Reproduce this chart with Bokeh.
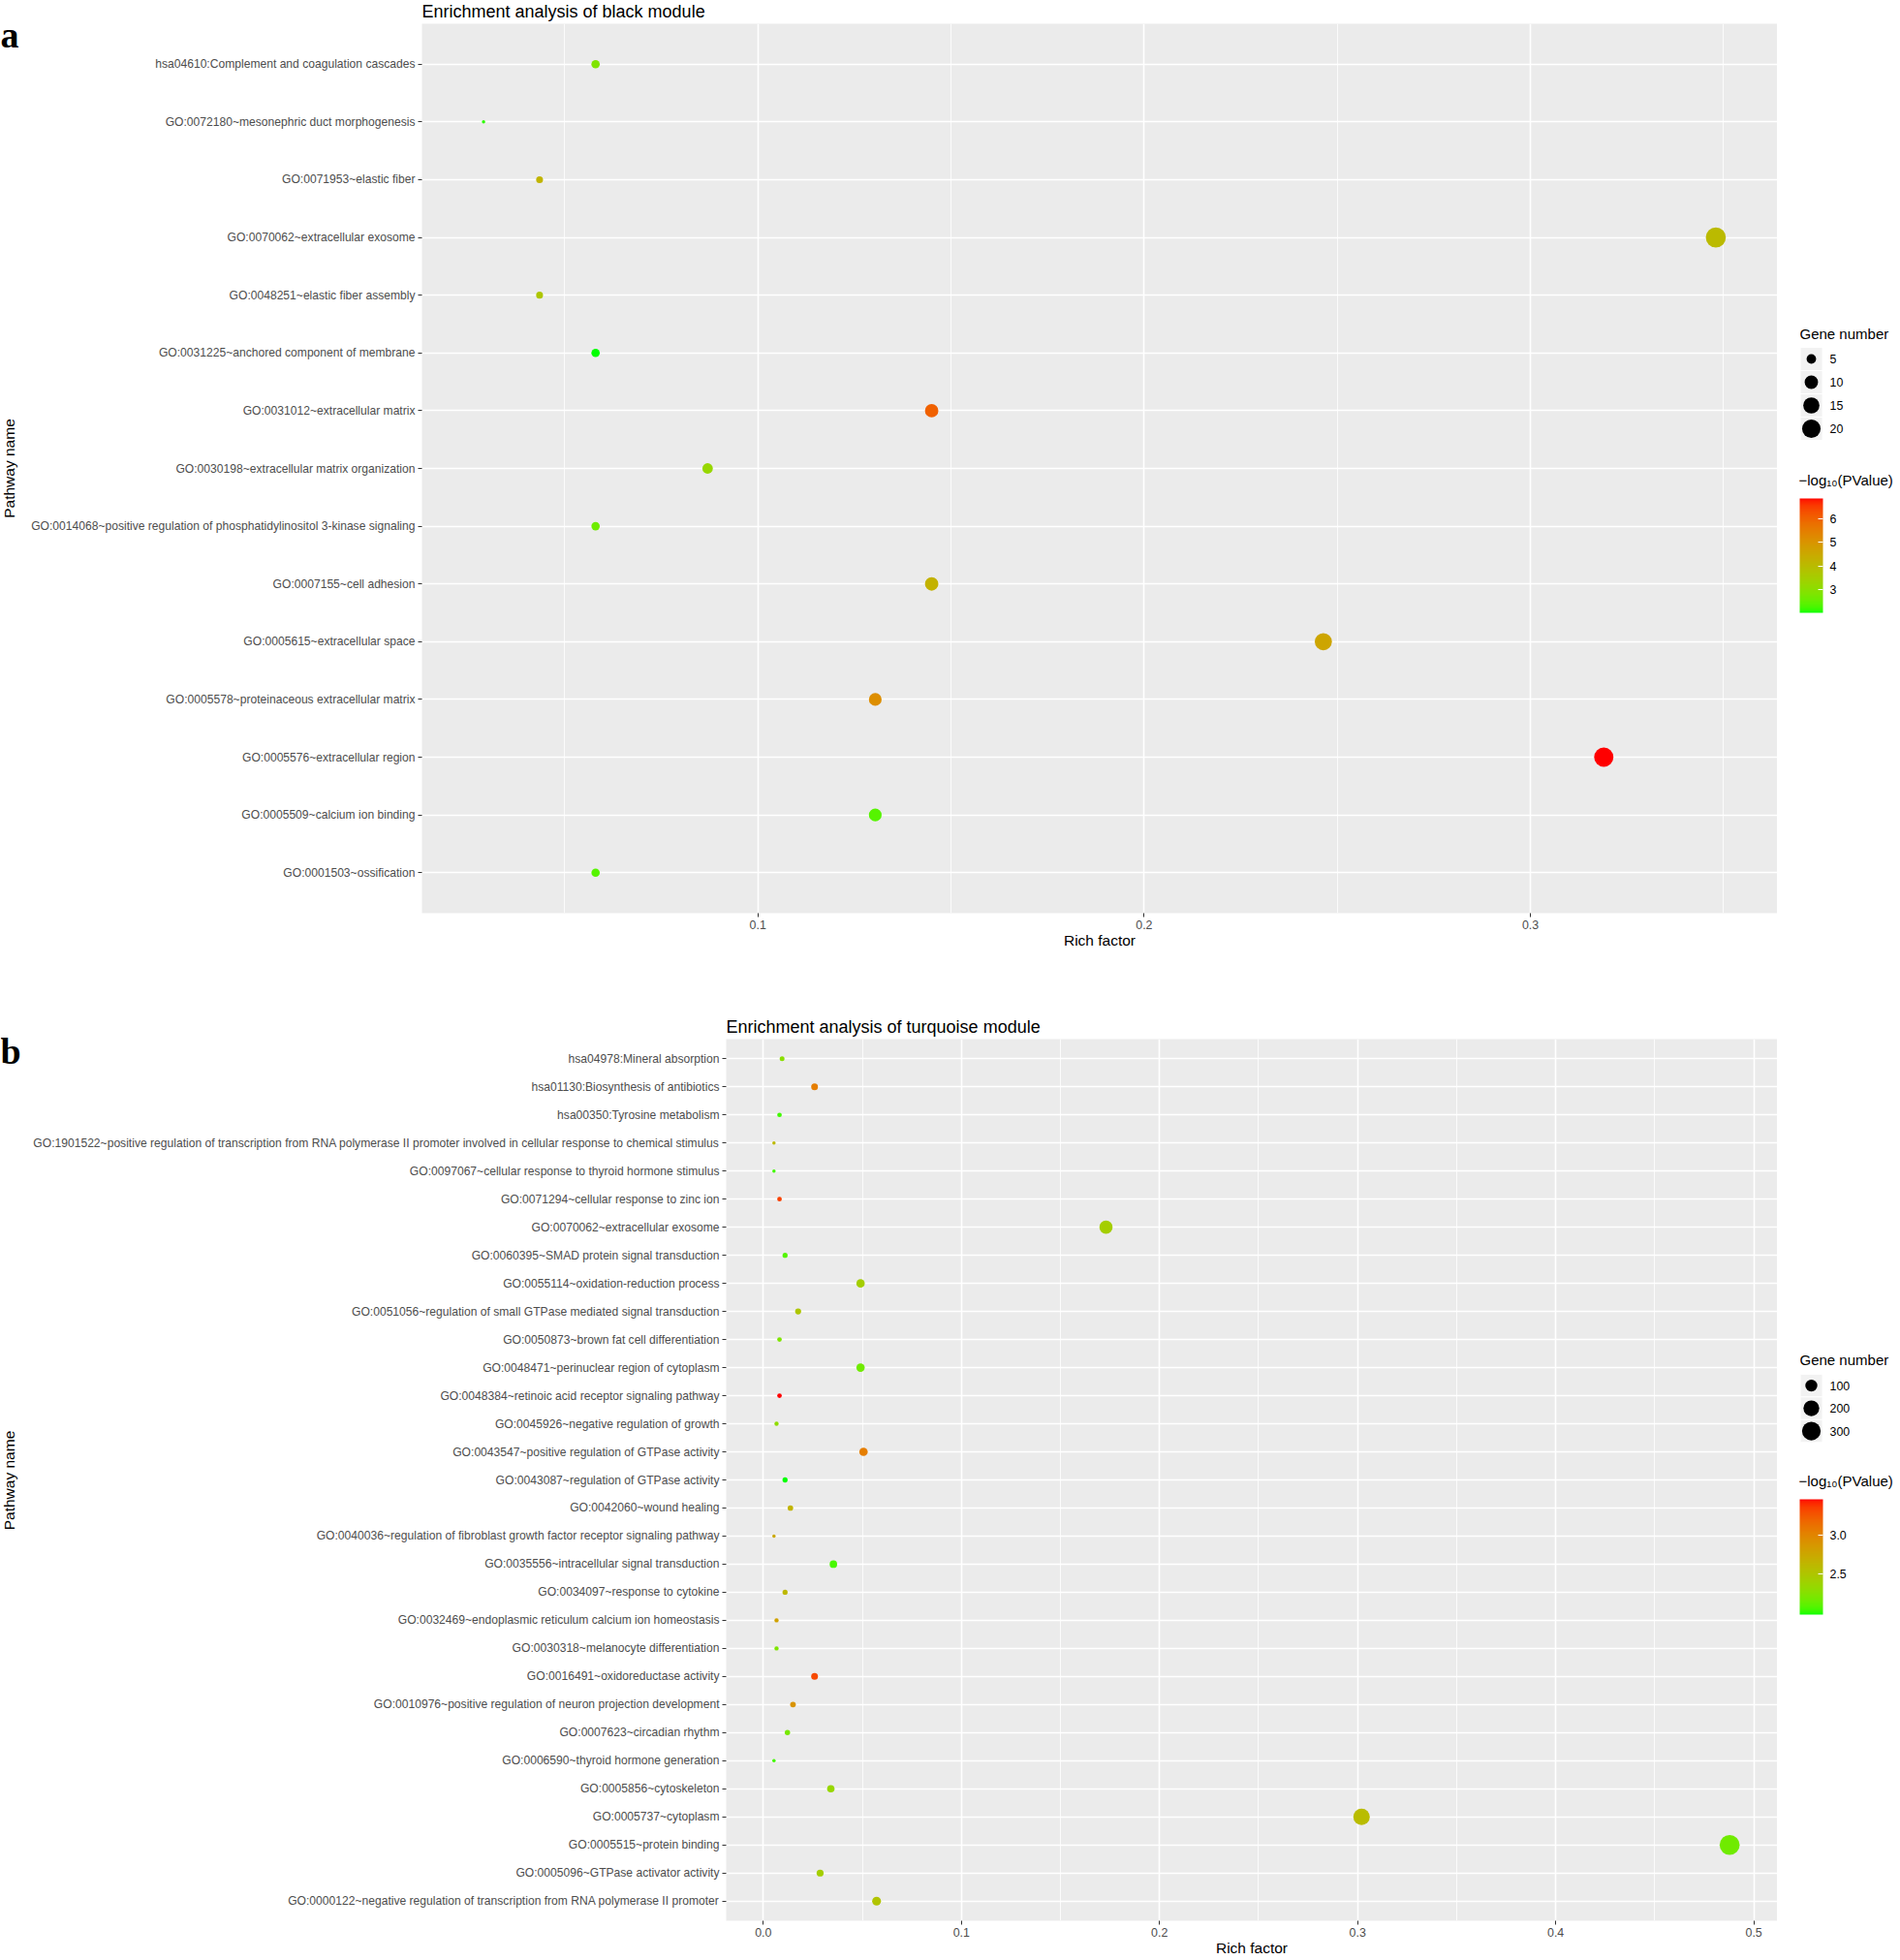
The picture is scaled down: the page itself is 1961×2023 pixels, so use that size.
import numpy as np
from bokeh.plotting import figure
from bokeh.models import (ColumnDataSource, FactorRange, Range1d, FixedTicker,
                          LinearColorMapper, ColorBar, NumeralTickFormatter, Spacer)
from bokeh.layouts import row, column
from bokeh.embed import file_html
from bokeh.resources import INLINE
from bokeh.core.properties import value

# ---------------- data: panel a (black module), listed top to bottom ----------------
a_terms = [
    "hsa04610:Complement and coagulation cascades",
    "GO:0072180~mesonephric duct morphogenesis",
    "GO:0071953~elastic fiber",
    "GO:0070062~extracellular exosome",
    "GO:0048251~elastic fiber assembly",
    "GO:0031225~anchored component of membrane",
    "GO:0031012~extracellular matrix",
    "GO:0030198~extracellular matrix organization",
    "GO:0014068~positive regulation of phosphatidylinositol 3-kinase signaling",
    "GO:0007155~cell adhesion",
    "GO:0005615~extracellular space",
    "GO:0005578~proteinaceous extracellular matrix",
    "GO:0005576~extracellular region",
    "GO:0005509~calcium ion binding",
    "GO:0001503~ossification",
]
a_rich = [0.058, 0.029, 0.0435, 0.348, 0.0435, 0.058, 0.145, 0.087, 0.058, 0.145,
          0.2464, 0.1304, 0.319, 0.1304, 0.058]
a_count = [4, 2, 3, 24, 3, 4, 10, 6, 4, 10, 17, 9, 22, 9, 4]
a_logp = [2.83, 2.1, 4.2, 4.05, 3.7, 2.0, 6.05, 3.2, 2.6, 4.25, 4.6, 5.15, 6.87, 2.35, 2.35]
a_x_ticks = [0.1, 0.2, 0.3]
a_x_minor = [0.05, 0.15, 0.25, 0.35]
a_size_breaks = [5, 10, 15, 20]
a_color_ticks = [3, 4, 5, 6]

# ---------------- data: panel b (turquoise module), listed top to bottom ----------------
b_terms = [
    "hsa04978:Mineral absorption",
    "hsa01130:Biosynthesis of antibiotics",
    "hsa00350:Tyrosine metabolism",
    "GO:1901522~positive regulation of transcription from RNA polymerase II promoter involved in cellular response to chemical stimulus",
    "GO:0097067~cellular response to thyroid hormone stimulus",
    "GO:0071294~cellular response to zinc ion",
    "GO:0070062~extracellular exosome",
    "GO:0060395~SMAD protein signal transduction",
    "GO:0055114~oxidation-reduction process",
    "GO:0051056~regulation of small GTPase mediated signal transduction",
    "GO:0050873~brown fat cell differentiation",
    "GO:0048471~perinuclear region of cytoplasm",
    "GO:0048384~retinoic acid receptor signaling pathway",
    "GO:0045926~negative regulation of growth",
    "GO:0043547~positive regulation of GTPase activity",
    "GO:0043087~regulation of GTPase activity",
    "GO:0042060~wound healing",
    "GO:0040036~regulation of fibroblast growth factor receptor signaling pathway",
    "GO:0035556~intracellular signal transduction",
    "GO:0034097~response to cytokine",
    "GO:0032469~endoplasmic reticulum calcium ion homeostasis",
    "GO:0030318~melanocyte differentiation",
    "GO:0016491~oxidoreductase activity",
    "GO:0010976~positive regulation of neuron projection development",
    "GO:0007623~circadian rhythm",
    "GO:0006590~thyroid hormone generation",
    "GO:0005856~cytoskeleton",
    "GO:0005737~cytoplasm",
    "GO:0005515~protein binding",
    "GO:0005096~GTPase activator activity",
    "GO:0000122~negative regulation of transcription from RNA polymerase II promoter",
]
b_rich = [0.0095, 0.0259, 0.0082, 0.0054, 0.0054, 0.0082, 0.173, 0.011, 0.0491, 0.0176,
          0.0082, 0.0491, 0.0082, 0.0067, 0.0506, 0.011, 0.0137, 0.0054, 0.0354, 0.011,
          0.0067, 0.0067, 0.0259, 0.015, 0.0122, 0.0054, 0.0341, 0.302, 0.4878, 0.0287, 0.0572]
b_count = [7, 19, 6, 4, 4, 6, 126, 8, 36, 13, 6, 36, 6, 5, 37, 8, 10, 4, 26, 8,
           5, 5, 19, 11, 9, 4, 25, 220, 356, 21, 42]
b_logp = [2.27, 3.04, 2.03, 2.6, 2.03, 3.34, 2.42, 2.07, 2.42, 2.49, 2.22, 2.16, 3.46, 2.3,
          3.04, 1.97, 2.64, 2.74, 2.04, 2.61, 2.79, 2.22, 3.31, 2.89, 2.19, 2.03, 2.34,
          2.57, 2.16, 2.42, 2.51]
b_x_ticks = [0.0, 0.1, 0.2, 0.3, 0.4, 0.5]
b_x_minor = [0.05, 0.15, 0.25, 0.35, 0.45]
b_size_breaks = [100, 200, 300]
b_color_ticks = [2.5, 3.0]

FONT = "Liberation Sans"
GREY30 = "#4D4D4D"


# ---------------- green -> red gradient interpolated in CIELAB (like ggplot) ----------------
_M = np.array([[0.4124, 0.3576, 0.1805], [0.2126, 0.7152, 0.0722], [0.0193, 0.1192, 0.9505]])
_MI = np.linalg.inv(_M)
_W = np.array([0.95047, 1.0, 1.08883])


def _to_lin(c):
    c = np.asarray(c, float)
    return np.where(c <= 0.04045, c / 12.92, ((c + 0.055) / 1.055) ** 2.4)


def _to_srgb(c):
    c = np.clip(c, 0, 1)
    return np.where(c <= 0.0031308, 12.92 * c, 1.055 * c ** (1 / 2.4) - 0.055)


def rgb2lab(rgb):
    xyz = _M @ _to_lin(rgb) / _W
    f = np.where(xyz > 216 / 24389, np.cbrt(xyz), (24389 / 27 * xyz + 16) / 116)
    return np.array([116 * f[1] - 16, 500 * (f[0] - f[1]), 200 * (f[1] - f[2])])


def lab2hex(lab):
    L, a, b = lab
    fy = (L + 16) / 116
    f = np.array([fy + a / 500, fy, fy - b / 200])
    xyz = np.where(f ** 3 > 216 / 24389, f ** 3, (116 * f - 16) / (24389 / 27)) * _W
    rgb = np.round(_to_srgb(_MI @ xyz) * 255).astype(int)
    return "#%02x%02x%02x" % tuple(rgb)


_lo, _hi = rgb2lab([0, 1, 0]), rgb2lab([1, 0, 0])
PALETTE = [lab2hex(_lo + t * (_hi - _lo)) for t in np.linspace(0, 1, 256)]


def size_scale(n, nmin, nmax):
    # ggplot2 scale_size: area-proportional, range 1..6 (about 3.45 px per unit here)
    n = np.asarray(n, float)
    return 3.45 * (1 + 5 * np.sqrt((n - nmin) / (nmax - nmin)))


SIDE_W = 22
LEG_W = 125
MAIN_W = 1834 - SIDE_W


def make_side(H, page_top, bottom, letter, letter_base, frame_mid):
    # left strip (starts 1px below the row top): panel letter + y-axis title.
    # data y is measured upward from the strip's frame bottom.
    h = H - 1
    fb = page_top + h - bottom          # page row of frame bottom
    fh = h - bottom
    f = figure(width=SIDE_W, height=h, x_range=Range1d(0, SIDE_W), y_range=Range1d(0, fh),
               x_axis_type=None, y_axis_type=None, min_border_left=0, min_border_right=0,
               min_border_top=0, min_border_bottom=bottom, outline_line_color=None,
               toolbar_location=None, output_backend="svg", title=None,
               background_fill_color="white", border_fill_color="white")
    f.grid.visible = False
    f.text(x=[0], y=[fb - letter_base], text=[letter], text_font=value("Liberation Serif"),
           text_font_style="bold", text_font_size=value("38px"), text_color="black",
           text_baseline="alphabetic", text_align="left")
    f.text(x=[9], y=[fb - frame_mid], text=["Pathway name"], angle=np.pi / 2,
           text_font=value(FONT), text_font_size=value("15.5px"), text_color="black",
           text_baseline="middle", text_align="center")
    return column(Spacer(width=SIDE_W, height=1), f)


def make_panel(terms, rich, count, logp, xticks, xminor, H, left, top, bottom, title):
    mapper = LinearColorMapper(palette=PALETTE, low=min(logp), high=max(logp))
    cmin, cmax = min(count), max(count)
    src = ColumnDataSource(dict(term=terms, rich=rich, count=count, logp=logp,
                                diam=size_scale(count, cmin, cmax)))
    lo, hi = min(rich), max(rich)
    pad = 0.05 * (hi - lo)
    p = figure(width=MAIN_W, height=H, x_range=Range1d(lo - pad, hi + pad),
               y_range=FactorRange(factors=list(reversed(terms)), range_padding=0.2,
                                   range_padding_units="absolute"),
               output_backend="svg", toolbar_location=None, title=title,
               min_border_left=left, min_border_right=0, min_border_top=top,
               min_border_bottom=bottom, background_fill_color="#EBEBEB",
               border_fill_color="white", outline_line_color=None)
    p.title.align = "left"
    p.title.vertical_align = "top"
    p.title.offset = 0
    p.title.standoff = 2
    p.title.text_font = FONT
    p.title.text_font_size = "18px"
    p.title.text_font_style = "normal"
    p.title.text_color = "black"
    tk = FixedTicker(ticks=xticks, minor_ticks=xminor)
    p.xaxis.ticker = tk
    p.xgrid.ticker = tk
    p.xaxis.formatter = NumeralTickFormatter(format="0.0")
    p.xgrid.grid_line_color = "white"
    p.xgrid.grid_line_width = 1.6
    p.xgrid.minor_grid_line_color = "white"
    p.xgrid.minor_grid_line_width = 0.8
    p.ygrid.grid_line_color = "white"
    p.ygrid.grid_line_width = 1.6
    for ax in (p.xaxis, p.yaxis):
        ax.axis_line_color = None
        ax.major_tick_line_color = "#333333"
        ax.major_tick_out = 4
        ax.major_tick_in = 0
        ax.minor_tick_line_color = None
        ax.major_label_text_font = FONT
        ax.major_label_text_color = GREY30
        ax.major_label_standoff = 3
    p.xaxis.major_label_text_font_size = "12.4px"
    p.yaxis.major_label_text_font_size = "12.1px"
    p.xaxis.axis_label = "Rich factor"
    p.xaxis.axis_label_text_font = FONT
    p.xaxis.axis_label_text_font_size = "15.5px"
    p.xaxis.axis_label_text_font_style = "normal"
    p.xaxis.axis_label_text_color = "black"
    p.xaxis.axis_label_standoff = 0

    p.scatter(x="rich", y="term", size="diam", source=src, line_color=None,
              fill_color={"field": "logp", "transform": mapper})
    return p, mapper, cmin, cmax


def make_legend(H, top, bottom, y_top, y_bot, breaks, cmin, cmax, key_y, key_h, title_y,
                cb_title_y, cb_top, cb_bot, mapper, cticks, cfmt):
    # y data coordinates == page pixel rows (frame spans y_top..y_bot)
    lf = figure(width=LEG_W, height=H, x_range=Range1d(0, LEG_W), y_range=Range1d(y_bot, y_top),
                x_axis_type=None, y_axis_type=None, min_border_left=0, min_border_right=0,
                min_border_top=top, min_border_bottom=bottom, outline_line_color=None,
                toolbar_location=None, output_backend="svg", title=None,
                background_fill_color="white", border_fill_color="white")
    lf.grid.visible = False
    x0 = 23
    lf.text(x=[x0], y=[title_y], text=["Gene number"], text_font=value(FONT),
            text_font_size=value("15px"), text_baseline="middle", text_align="left",
            text_color="black")
    n = len(breaks)
    kx = [x0 + 12] * n
    lf.rect(x=kx, y=key_y, width=23, height=key_h, fill_color="#F2F2F2",
            line_color="white", line_width=1)
    lf.scatter(x=kx, y=key_y, size=size_scale(breaks, cmin, cmax), fill_color="black",
               line_color=None)
    lf.text(x=[x0 + 31] * n, y=key_y, text=[str(b) for b in breaks],
            text_font=value(FONT), text_font_size=value("12.4px"),
            text_baseline="middle", text_align="left", text_color="black")
    lf.text(x=[x0 - 1], y=[cb_title_y], text=["\u2212log\u2081\u2080(PValue)"],
            text_font=value(FONT), text_font_size=value("15px"), text_baseline="middle",
            text_align="left", text_color="black")
    cb = ColorBar(color_mapper=mapper, ticker=FixedTicker(ticks=cticks),
                  formatter=NumeralTickFormatter(format=cfmt), orientation="vertical",
                  width=24, height=cb_bot - cb_top, location=(x0, y_bot - cb_bot),
                  padding=0, margin=0, label_standoff=7, major_tick_in=5,
                  major_tick_out=0, major_tick_line_color="white",
                  minor_tick_line_color=None, bar_line_color=None,
                  border_line_color=None, background_fill_alpha=0,
                  major_label_text_font=FONT, major_label_text_font_size="12.4px",
                  major_label_text_color="black")
    lf.add_layout(cb)
    return lf


# ---- vertical plan (page pixels): panel a 0-1048 (frame 24..942), panel b 1048-2021 (frame 1072..1983)
HA, HB = 1048, 973
A_TOP, A_BOT = 24, 106
B_TOP, B_BOT = 24, 38
LEFT = 435 - SIDE_W
LEFT_B = 749 - SIDE_W

pa, ma, amin, amax = make_panel(a_terms, a_rich, a_count, a_logp, a_x_ticks, a_x_minor,
                                HA, LEFT, A_TOP, A_BOT, "Enrichment analysis of black module")
la = make_legend(HA, A_TOP, A_BOT, 24, 942, a_size_breaks, amin, amax,
                 key_y=[370, 394, 418, 442], key_h=24, title_y=343.5, cb_title_y=495,
                 cb_top=514, cb_bot=632, mapper=ma, cticks=a_color_ticks, cfmt="0")
sa = make_side(HA, 1, A_BOT, "a", letter_base=35, frame_mid=(24 + 942) / 2)

pb, mb, bmin, bmax = make_panel(b_terms, b_rich, b_count, b_logp, b_x_ticks, b_x_minor,
                                HB, LEFT_B, B_TOP, B_BOT, "Enrichment analysis of turquoise module")
lb = make_legend(HB, B_TOP, B_BOT, 1072, 1983, b_size_breaks, bmin, bmax,
                 key_y=[1430, 1453.5, 1477], key_h=23.5, title_y=1403, cb_title_y=1529,
                 cb_top=1548, cb_bot=1667, mapper=mb, cticks=b_color_ticks, cfmt="0.0")
sb = make_side(HB, 1049, B_BOT, "b", letter_base=1084, frame_mid=(1072 + 1983) / 2)

layout = column(row(sa, pa, la), row(sb, pb, lb))
open("out.html", "w").write(file_html(layout, INLINE))
